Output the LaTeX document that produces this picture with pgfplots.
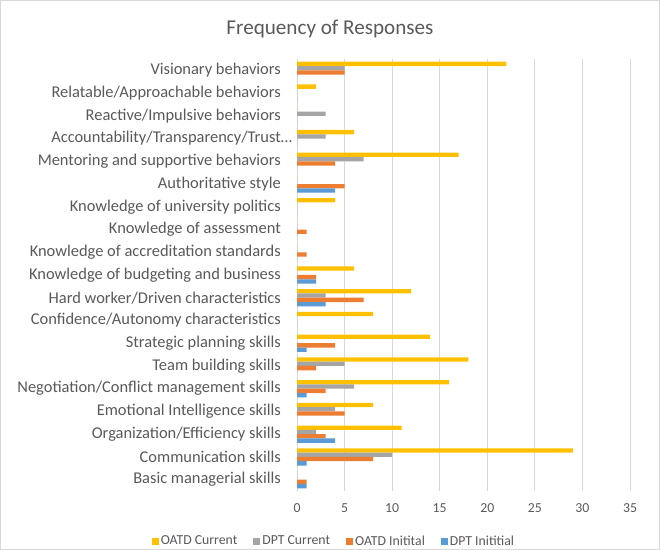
\documentclass[border=0pt]{standalone}
\usepackage{pgfplots}
\pgfplotsset{compat=1.18}
\usepackage{fontspec}
\setmainfont{Carlito}
\definecolor{txt}{HTML}{595959}
\definecolor{gridc}{HTML}{D9D9D9}
\definecolor{cOC}{HTML}{FFC000}
\definecolor{cDC}{HTML}{A5A5A5}
\definecolor{cOI}{HTML}{ED7D31}
\definecolor{cDI}{HTML}{5B9BD5}
\begin{document}
\begin{tikzpicture}
\useasboundingbox (0,0) rectangle (660bp,550bp);
\draw[gridc, line width=0.8bp] (0.4bp,0.4bp) rectangle (659.6bp,549.6bp);
\begin{axis}[
  at={(297bp,59bp)}, anchor=south west,
  scale only axis, width=333bp, height=432bp,
  xbar, bar width=0.19,
  xmin=0, xmax=35, xtick={0,5,...,35},
  ymin=-0.5, ymax=18.5, enlarge y limits=false, enlarge x limits=false,
  ytick={0,...,18},
  yticklabels={Basic managerial skills, Communication skills, Organization/Efficiency skills, Emotional Intelligence skills, Negotiation/Conflict management skills, Team building skills, Strategic planning skills, Confidence/Autonomy characteristics, Hard worker/Driven characteristics, Knowledge of budgeting and business\hspace{3bp}, Knowledge of accreditation standards, Knowledge of assessment, Knowledge of university politics, Authoritative style, Mentoring and supportive behaviors, Accountability/Transparency/Trust\rlap{…}, Reactive/Impulsive behaviors, Relatable/Approachable behaviors, Visionary behaviors},
  yticklabel style={font=\fontsize{16.5}{18}\selectfont, text=txt, anchor=east, inner sep=0pt, xshift=-16bp},
  xticklabel style={font=\fontsize{13.8}{16}\selectfont, text=txt, inner sep=0pt, yshift=-12bp},
  /pgf/number format/assume math mode=true,
  major tick length=0pt,
  xmajorgrids, grid style={gridc, line width=0.8bp},
  axis line style={draw=none},
  title={Frequency of Responses},
  title style={at={(axis description cs:0.099,1.056)}, anchor=center, font=\fontsize{21.2}{24}\selectfont, text=txt},
  legend columns=4,
  legend style={at={(axis description cs:0.111,-0.116)}, anchor=center, draw=none, fill=none, font=\fontsize{13.8}{16}\selectfont, text=txt, /tikz/every even column/.append style={column sep=14bp}},
  legend image code/.code={\fill[#1] (0bp,-3.5bp) rectangle (7bp,3.5bp);},
]
% OATD Current
\addplot[fill=cOC, draw=none, bar shift=0.285] coordinates {
(0,0) (29,1) (11,2) (8,3) (16,4) (18,5) (14,6) (8,7) (12,8) (6,9) (0,10) (0,11) (4,12) (0,13) (17,14) (6,15) (0,16) (2,17) (22,18)};
% DPT Current
\addplot[fill=cDC, draw=none, bar shift=0.095] coordinates {
(0,0) (10,1) (2,2) (4,3) (6,4) (5,5) (0,6) (0,7) (3,8) (0,9) (0,10) (0,11) (0,12) (0,13) (7,14) (3,15) (3,16) (0,17) (5,18)};
% OATD Initial
\addplot[fill=cOI, draw=none, bar shift=-0.095] coordinates {
(1,0) (8,1) (3,2) (5,3) (3,4) (2,5) (4,6) (0,7) (7,8) (2,9) (1,10) (1,11) (0,12) (5,13) (4,14) (0,15) (0,16) (0,17) (5,18)};
% DPT Initial
\addplot[fill=cDI, draw=none, bar shift=-0.285] coordinates {
(1,0) (1,1) (4,2) (0,3) (1,4) (0,5) (1,6) (0,7) (3,8) (2,9) (0,10) (0,11) (0,12) (4,13) (0,14) (0,15) (0,16) (0,17) (0,18)};
\legend{OATD Current, DPT Current, OATD Initital, DPT Inititial}
\end{axis}
\end{tikzpicture}
\end{document}
